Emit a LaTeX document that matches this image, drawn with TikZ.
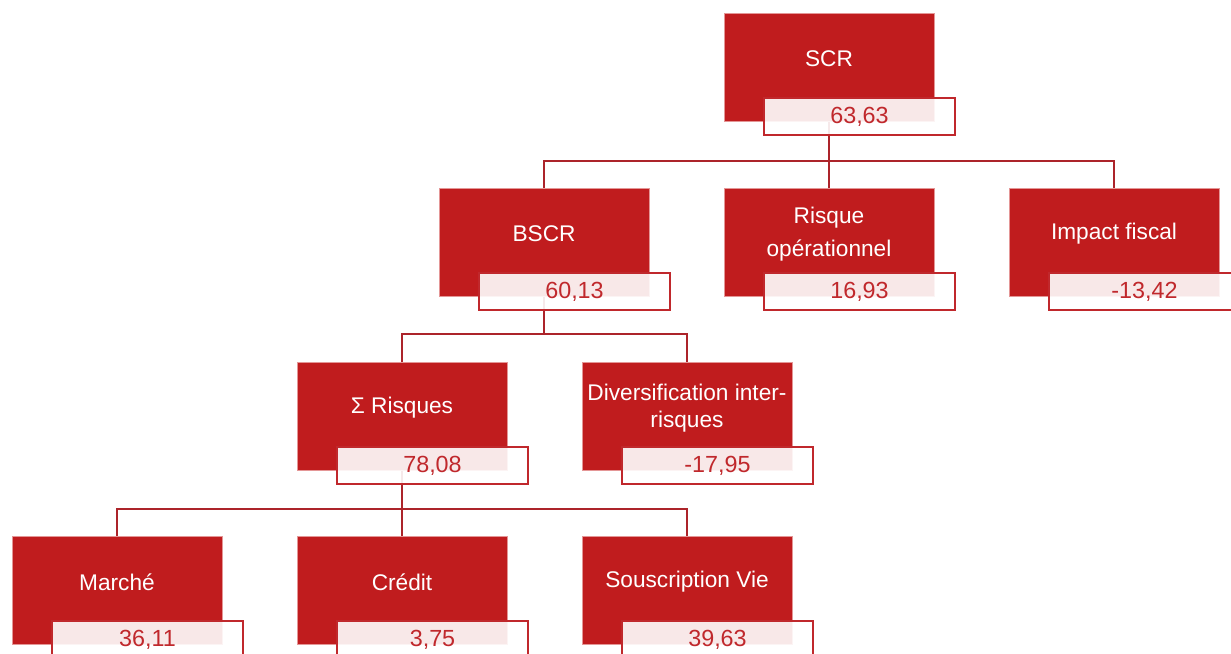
\documentclass[tikz,border=0pt]{standalone}
\usepackage{fontspec}
\setmainfont{Liberation Sans}
\definecolor{rfill}{RGB}{192,28,30}
\definecolor{redge}{RGB}{228,150,150}
\definecolor{vline}{RGB}{192,40,44}
\definecolor{cline}{RGB}{172,36,42}
\newcommand\redbx[4]{%
  \node[redbox] (#1) at ({#2},{#3+54.25}) {};
  \node[boxtext] (#1t) at ({#2},{#3+46}) {#4};}
\newcommand\valbx[4]{%
  \node[valbox] (#1v) at ({#2+30.5},{#3+103.5}) {\raisebox{-2.5pt}{#4}};}
\begin{document}
\begin{tikzpicture}[x=0.75pt,y=-0.75pt,
  redbox/.style={draw=redge, line width=0.5pt, fill=rfill, minimum width=157.5pt, minimum height=81.4pt, inner sep=0pt},
  boxtext/.style={text=white, font=\fontsize{17}{20.2}\selectfont, align=center, inner sep=0pt},
  valbox/.style={draw=vline, line width=1.5pt, fill=white, fill opacity=0.9, text opacity=1, text=vline, minimum width=143pt, minimum height=28pt, inner sep=0pt, font=\fontsize{17.5}{20.5}\selectfont},
  conn/.style={draw=cline, line width=1.7pt}]
\useasboundingbox (0,0) rectangle (1231,653);
\clip (0,0) rectangle (1231,653);
\fill[white] (0,0) rectangle (1231,653);
% red boxes
\redbx{scr}{829}{13}{SCR}
\redbx{bscr}{544}{188}{BSCR}
\redbx{risk}{829}{188}{Risque\\[5pt]opérationnel}
\redbx{impact}{1114}{188}{Impact fiscal}
\redbx{sig}{402}{362}{Σ Risques}
\redbx{div}{687}{362}{Diversification inter-\\risques}
\redbx{marche}{117}{536}{Marché}
\redbx{credit}{402}{536}{Crédit}
\redbx{souscr}{687}{536}{Souscription Vie}
% connectors
\draw[conn] (scr.south) -- ++(0,39) -| (bscr.north);
\draw[conn] (scr.south) -- ++(0,39) -| (impact.north);
\draw[conn] (scr.south) -- (risk.north);
\draw[conn] (bscr.south) -- ++(0,37.5) -| (sig.north);
\draw[conn] (bscr.south) -- ++(0,37.5) -| (div.north);
\draw[conn] (sig.south) -- ++(0,38.5) -| (marche.north);
\draw[conn] (sig.south) -- ++(0,38.5) -| (souscr.north);
\draw[conn] (sig.south) -- (credit.north);
% value boxes
\valbx{scr}{829}{13}{63,63}
\valbx{bscr}{544}{188}{60,13}
\valbx{risk}{829}{188}{16,93}
\valbx{impact}{1114}{188}{-13,42}
\valbx{sig}{402}{362}{78,08}
\valbx{div}{687}{362}{-17,95}
\valbx{marche}{117}{536}{36,11}
\valbx{credit}{402}{536}{3,75}
\valbx{souscr}{687}{536}{39,63}
\end{tikzpicture}
\end{document}
